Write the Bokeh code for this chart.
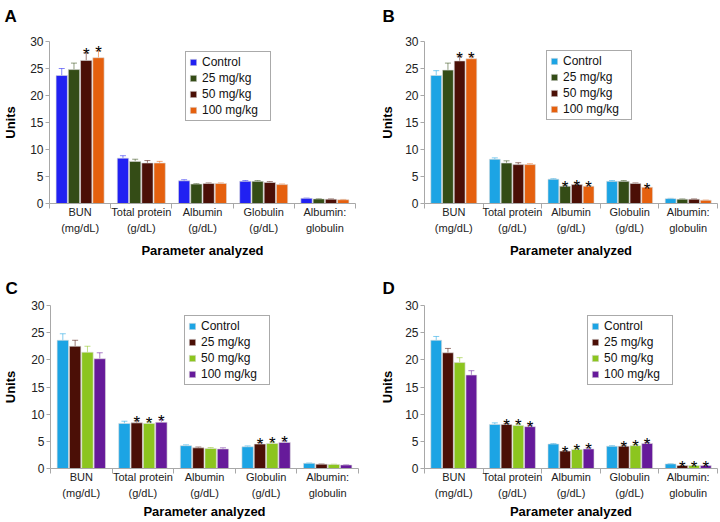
from bokeh.plotting import figure
from bokeh.models import (ColumnDataSource, FixedTicker, Whisker, TeeHead,
                          Legend, LegendItem, Range1d, Title)
from bokeh.layouts import column, row
from bokeh.embed import file_html
from bokeh.resources import INLINE
from bokeh.core.properties import value

# ---------------- data ----------------
categories = ["BUN\n(mg/dL)", "Total protein\n(g/dL)", "Albumin\n(g/dL)",
              "Globulin\n(g/dL)", "Albumin:\nglobulin"]
groups = ["Control", "25 mg/kg", "50 mg/kg", "100 mg/kg"]
y_ticks = [0, 5, 10, 15, 20, 25, 30]
x_title = "Parameter analyzed"
y_title = "Units"

# Panel A
a_control = [23.7, 8.4, 4.2, 4.1, 0.95]
a_25 = [24.8, 7.8, 3.6, 4.1, 0.85]
a_50 = [26.5, 7.5, 3.7, 3.9, 0.80]
a_100 = [27.0, 7.5, 3.7, 3.5, 0.70]
a_err_control = [1.3, 0.45, 0.2, 0.15, 0.05]
a_err_25 = [1.2, 0.4, 0.1, 0.15, 0.05]
a_err_50 = [1.4, 0.45, 0.1, 0.15, 0.05]
a_err_100 = [1.3, 0.3, 0.1, 0.1, 0.05]
a_sig_25 = [0, 0, 0, 0, 0]
a_sig_50 = [1, 0, 0, 0, 0]
a_sig_100 = [1, 0, 0, 0, 0]

# Panel B
b_control = [23.7, 8.2, 4.5, 4.1, 0.90]
b_25 = [24.7, 7.5, 3.2, 4.1, 0.80]
b_50 = [26.4, 7.2, 3.5, 3.7, 0.80]
b_100 = [26.8, 7.2, 3.2, 3.0, 0.60]
b_err_control = [0.9, 0.25, 0.1, 0.15, 0.05]
b_err_25 = [1.3, 0.4, 0.2, 0.15, 0.05]
b_err_50 = [0.9, 0.35, 0.1, 0.1, 0.05]
b_err_100 = [0.5, 0.15, 0.1, 0.05, 0.03]
b_sig_25 = [0, 0, 1, 0, 0]
b_sig_50 = [1, 0, 1, 0, 0]
b_sig_100 = [1, 0, 1, 1, 0]

# Panel C
c_control = [23.6, 8.3, 4.2, 4.0, 0.95]
c_25 = [22.5, 8.4, 3.8, 4.5, 0.80]
c_50 = [21.4, 8.3, 3.7, 4.6, 0.75]
c_100 = [20.2, 8.5, 3.6, 4.8, 0.65]
c_err_control = [1.2, 0.4, 0.15, 0.15, 0.05]
c_err_25 = [1.1, 0.4, 0.15, 0.3, 0.03]
c_err_50 = [1.1, 0.3, 0.15, 0.3, 0.03]
c_err_100 = [1.1, 0.5, 0.2, 0.3, 0.03]
c_sig_25 = [0, 1, 0, 1, 0]
c_sig_50 = [0, 1, 0, 1, 0]
c_sig_100 = [0, 1, 0, 1, 0]

# Panel D
d_control = [23.6, 8.1, 4.5, 4.1, 0.85]
d_25 = [21.3, 8.1, 3.2, 4.1, 0.55]
d_50 = [19.5, 7.9, 3.5, 4.2, 0.55]
d_100 = [17.2, 7.7, 3.6, 4.6, 0.55]
d_err_control = [0.7, 0.3, 0.1, 0.1, 0.03]
d_err_25 = [0.8, 0.2, 0.1, 0.2, 0.03]
d_err_50 = [0.9, 0.3, 0.2, 0.2, 0.03]
d_err_100 = [0.8, 0.3, 0.2, 0.2, 0.03]
d_sig_25 = [0, 1, 1, 1, 1]
d_sig_50 = [0, 1, 1, 1, 1]
d_sig_100 = [0, 1, 1, 1, 1]

# ---------------- styles ----------------
FONT = "Liberation Sans"
BLUE = "#2121f2"
SKY = "#1ca4e4"
OLIVE = "#344c16"
BROWN = "#4b0f06"
ORANGE = "#e5600e"
LIME = "#8cc51f"
PURPLE = "#661a9a"
AXIS = "#a8a8a8"


def make_panel(letter, means, errs, sigs, colors, fig_w, fig_h,
               left, right, top, bottom, legend_xy, letter_offset, letter_standoff,
               spacer_size, ytitle_standoff, xtitle_standoff):
    p = figure(width=fig_w, height=fig_h, output_backend="svg", toolbar_location=None,
               x_range=Range1d(0, len(categories)), y_range=Range1d(0, 30),
               min_border_left=left, min_border_right=right,
               min_border_top=top, min_border_bottom=bottom,
               tools="", title_location=None)
    p.outline_line_color = None
    p.grid.visible = False
    p.background_fill_color = "white"
    p.border_fill_color = "white"

    # panel letter (optionally lifted by an empty spacer title next to the frame)
    if spacer_size:
        p.add_layout(Title(text=" ", text_font_size=spacer_size, standoff=0), "above")
    p.add_layout(Title(text=letter, align="left", offset=letter_offset,
                       standoff=letter_standoff, text_font=FONT,
                       text_font_style="bold", text_font_size="17px",
                       text_color="black"), "above")

    n = len(groups)
    step = 0.2
    items = []
    for j, g in enumerate(groups):
        xs = [i + 0.5 + (j - (n - 1) / 2) * step for i in range(len(categories))]
        tops = [m + e for m, e in zip(means[j], errs[j])]
        src = ColumnDataSource(dict(x=xs, val=means[j], top=tops))
        r = p.vbar(x="x", top="val", bottom=0, width=0.185, source=src,
                   fill_color=colors[j], line_color="#dcdcdc", line_width=0.6)
        items.append(LegendItem(label=g, renderers=[r]))
        w = Whisker(base="x", lower="val", upper="top", source=src, dimension="height",
                    line_color=colors[j], line_alpha=0.55, line_width=1,
                    upper_head=TeeHead(size=6, line_color=colors[j], line_alpha=0.55, line_width=1),
                    lower_head=None)
        p.add_layout(w)
        if j > 0:
            sx = [x for x, s in zip(xs, sigs[j - 1]) if s]
            sy = [t for t, s in zip(tops, sigs[j - 1]) if s]
            if sx:
                ssrc = ColumnDataSource(dict(x=sx, y=sy, t=["*"] * len(sx)))
                p.text(x="x", y="y", text="t", source=ssrc, text_align="center",
                       text_baseline="alphabetic", y_offset=2,
                       text_font=value(FONT), text_font_size="17px", text_color="black")

    # axes
    yax = p.yaxis[0]
    yax.ticker = FixedTicker(ticks=y_ticks)
    yax.axis_line_color = AXIS
    yax.major_tick_line_color = AXIS
    yax.major_tick_out = 4
    yax.major_tick_in = 0
    yax.minor_tick_line_color = None
    yax.major_label_standoff = 2
    yax.major_label_text_font = FONT
    yax.major_label_text_font_size = "12px"
    yax.major_label_text_color = "#222222"
    yax.axis_label = y_title
    yax.axis_label_text_font = FONT
    yax.axis_label_text_font_style = "bold"
    yax.axis_label_text_font_size = "13px"
    yax.axis_label_text_color = "black"
    yax.axis_label_standoff = ytitle_standoff

    xax = p.xaxis[0]
    xax.ticker = FixedTicker(ticks=[i + 0.5 for i in range(len(categories))],
                             minor_ticks=list(range(len(categories) + 1)))
    xax.major_label_overrides = {i + 0.5: c for i, c in enumerate(categories)}
    xax.axis_line_color = AXIS
    xax.major_tick_line_color = None
    xax.major_tick_out = 0
    xax.major_tick_in = 0
    xax.minor_tick_line_color = AXIS
    xax.minor_tick_out = 5
    xax.minor_tick_in = 0
    xax.major_label_standoff = -3
    xax.major_label_text_font = FONT
    xax.major_label_text_font_size = "11px"
    xax.major_label_text_color = "#222222"
    xax.major_label_text_line_height = 1.36
    xax.axis_label = x_title
    xax.axis_label_text_font = FONT
    xax.axis_label_text_font_style = "bold"
    xax.axis_label_text_font_size = "13px"
    xax.axis_label_text_color = "black"
    xax.axis_label_standoff = xtitle_standoff

    legend = Legend(items=items, location=legend_xy,
                    border_line_color="#555555", border_line_width=1,
                    background_fill_color="white", background_fill_alpha=1,
                    padding=3, spacing=2, label_height=14, glyph_height=8, glyph_width=8,
                    label_standoff=5, label_width=65, margin=0,
                    label_text_font=FONT, label_text_font_size="12px",
                    label_text_color="#111111")
    p.add_layout(legend, "center")
    return p


pA = make_panel("A", [a_control, a_25, a_50, a_100],
                [a_err_control, a_err_25, a_err_50, a_err_100],
                [a_sig_25, a_sig_50, a_sig_100],
                [BLUE, OLIVE, BROWN, ORANGE], 360, 261,
                47, 5, 39, 58, (136, 82), -45, 0, "12px", 9, 6)
pB = make_panel("B", [b_control, b_25, b_50, b_100],
                [b_err_control, b_err_25, b_err_50, b_err_100],
                [b_sig_25, b_sig_50, b_sig_100],
                [SKY, OLIVE, BROWN, ORANGE], 360, 261,
                64, 3, 41, 58, (122, 83), -42, 0, "12px", 7, 6)
pC = make_panel("C", [c_control, c_25, c_50, c_100],
                [c_err_control, c_err_25, c_err_50, c_err_100],
                [c_sig_25, c_sig_50, c_sig_100],
                [SKY, BROWN, LIME, PURPLE], 360, 261,
                48, 2, 44, 53, (134, 83), -45, 16, None, 10, 2)
pD = make_panel("D", [d_control, d_25, d_50, d_100],
                [d_err_control, d_err_25, d_err_50, d_err_100],
                [d_sig_25, d_sig_50, d_sig_100],
                [SKY, BROWN, LIME, PURPLE], 360, 261,
                64, 3, 44, 54, (163, 83), -42, 16, None, 7, 2)

layout = column(row(pA, pB), row(pC, pD))
open("out.html", "w").write(file_html(layout, INLINE))
